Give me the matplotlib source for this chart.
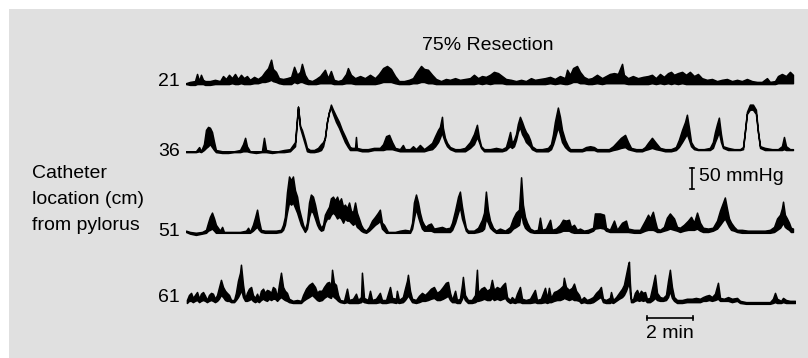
# Small-bowel manometry traces after 75% resection, redrawn with matplotlib
import numpy as np
import matplotlib
matplotlib.use("Agg")
import matplotlib.pyplot as plt

# Catheter positions (cm from pylorus)
locations = ["21", "36", "51", "61"]

# Each row: time (min), lower envelope (mmHg), upper envelope (mmHg)
trace_21 = [
    (0.00, 0, 2), (0.17, -2, 5), (0.39, -2, 7), (0.48, 0, 24), (0.57, 0, 7), (0.65, 0, 22),
    (0.74, 0, 10), (0.83, -2, 7), (1.04, -2, 7), (1.26, 0, 10), (1.48, 0, 7), (1.61, 0, 19),
    (1.74, 0, 12), (1.87, 0, 22), (2.00, 2, 14), (2.13, 0, 24), (2.26, 0, 12), (2.39, 2, 22),
    (2.52, 0, 14), (2.65, 0, 19), (2.78, 0, 10), (2.96, 2, 17), (3.13, 2, 12), (3.30, 5, 19),
    (3.43, 5, 29), (3.57, 7, 38), (3.70, 10, 58), (3.78, 7, 36), (3.91, 5, 29), (4.04, 2, 14),
    (4.22, 0, 12), (4.39, 0, 14), (4.57, 0, 17), (4.70, 5, 41), (4.83, 2, 22), (4.96, 5, 29),
    (5.04, 5, 48), (5.17, 2, 22), (5.30, 0, 10), (5.48, 0, 7), (5.65, 0, 12), (5.83, 2, 19),
    (6.04, 2, 34), (6.17, 2, 14), (6.30, 2, 31), (6.43, 0, 10), (6.61, 0, 7), (6.78, 0, 10),
    (6.96, 2, 24), (7.04, 2, 38), (7.17, 2, 22), (7.35, 0, 14), (7.57, 0, 19), (7.78, 0, 14),
    (8.00, 0, 22), (8.22, 0, 14), (8.39, 2, 24), (8.57, 5, 38), (8.74, 5, 43), (8.91, 5, 36),
    (9.09, 2, 19), (9.26, 0, 7), (9.48, 0, 7), (9.70, 0, 10), (9.87, 2, 14), (10.04, 2, 29),
    (10.22, 5, 43), (10.35, 5, 36), (10.52, 2, 34), (10.70, 2, 22), (10.87, 0, 12), (11.09, 0, 7),
    (11.30, 0, 12), (11.48, 0, 10), (11.70, 0, 14), (11.91, 0, 10), (12.13, 0, 12), (12.35, 0, 14),
    (12.52, 0, 22), (12.70, 2, 14), (12.87, 0, 19), (13.04, 2, 17), (13.22, 0, 22), (13.39, 2, 29),
    (13.57, 2, 26), (13.74, 2, 19), (13.91, 0, 12), (14.13, 0, 10), (14.35, 0, 7), (14.57, 0, 10),
    (14.78, 0, 7), (15.00, 0, 14), (15.17, 0, 10), (15.39, 0, 12), (15.61, 0, 14), (15.83, 2, 17),
    (16.04, 0, 12), (16.26, 2, 19), (16.48, 0, 14), (16.57, 0, 34), (16.70, 2, 22), (16.83, 5, 38),
    (17.00, 5, 43), (17.13, 2, 29), (17.30, 2, 17), (17.48, 0, 12), (17.65, 0, 14), (17.87, 2, 22),
    (18.09, 0, 14), (18.26, 2, 19), (18.43, 2, 24), (18.61, 2, 26), (18.78, 2, 24), (18.96, 2, 48),
    (19.04, 2, 22), (19.22, 0, 14), (19.43, 0, 19), (19.65, 0, 14), (19.87, 0, 17), (20.09, 0, 19),
    (20.26, 2, 22), (20.43, 0, 14), (20.61, 2, 24), (20.78, 0, 17), (20.96, 2, 26), (21.09, 0, 29),
    (21.22, 2, 22), (21.39, 0, 26), (21.57, 2, 29), (21.74, 0, 22), (21.91, 0, 29), (22.09, 0, 19),
    (22.26, 0, 24), (22.43, 0, 14), (22.65, 0, 10), (22.87, 0, 12), (23.09, 0, 7), (23.30, 0, 10),
    (23.52, 0, 12), (23.74, 0, 7), (23.96, 0, 10), (24.17, 0, 7), (24.39, 0, 12), (24.61, 0, 7),
    (24.83, 0, 5), (25.04, 0, 5), (25.26, 0, 14), (25.39, 0, 5), (25.61, 0, 7), (25.74, 2, 19),
    (25.91, 2, 24), (26.09, 2, 19), (26.26, 2, 29), (26.39, 2, 22),
]

trace_36 = [
    (0.00, 0, 2), (0.26, 0, 2), (0.43, 0, 2), (0.57, 2, 12), (0.65, 0, 2), (0.78, 5, 19),
    (0.87, 10, 53), (0.96, 14, 60), (1.04, 19, 58), (1.13, 12, 48), (1.22, 5, 24), (1.30, 0, 5),
    (1.57, -2, 2), (1.83, -2, 2), (2.09, 0, 2), (2.35, 0, 5), (2.48, 2, 19), (2.57, 2, 34),
    (2.65, 2, 14), (2.78, 0, 2), (3.04, -2, 2), (3.30, 0, 2), (3.39, 0, 34), (3.48, 0, 5),
    (3.74, -2, 2), (4.00, 0, 2), (4.26, 0, 5), (4.52, 2, 7), (4.61, 7, 14), (4.74, 14, 24),
    (4.87, 108, 108), (4.96, 58, 62), (5.04, 43, 53), (5.17, 19, 29), (5.26, 2, 10), (5.39, 0, 5),
    (5.57, 0, 5), (5.74, 2, 10), (5.87, 5, 19), (5.96, 14, 24), (6.04, 34, 34), (6.13, 72, 72),
    (6.22, 96, 96), (6.30, 106, 113), (6.39, 91, 101), (6.52, 72, 86), (6.65, 58, 72), (6.78, 41, 53),
    (6.91, 24, 38), (7.04, 12, 22), (7.13, 5, 12), (7.22, 5, 10), (7.35, 5, 10), (7.39, 5, 36),
    (7.43, 5, 10), (7.65, 2, 7), (7.91, 2, 7), (8.17, 5, 10), (8.43, 5, 10), (8.57, 5, 19),
    (8.70, 7, 38), (8.83, 7, 41), (8.96, 7, 24), (9.09, 5, 10), (9.30, 2, 7), (9.43, 2, 17),
    (9.52, 2, 7), (9.74, 2, 7), (9.87, 2, 14), (10.00, 2, 7), (10.17, 2, 17), (10.35, 2, 7),
    (10.52, 5, 14), (10.70, 7, 22), (10.83, 14, 38), (10.96, 24, 53), (11.04, 34, 60), (11.13, 48, 84),
    (11.17, 38, 58), (11.26, 24, 34), (11.35, 14, 22), (11.48, 7, 12), (11.70, 2, 7), (11.91, 2, 7),
    (12.13, 2, 10), (12.35, 10, 24), (12.52, 19, 43), (12.65, 36, 65), (12.74, 24, 34), (12.83, 10, 14),
    (12.96, 2, 7), (13.22, 2, 7), (13.48, 2, 10), (13.74, 2, 7), (13.91, 5, 12), (14.00, 10, 29),
    (14.09, 14, 48), (14.17, 10, 22), (14.26, 14, 29), (14.35, 29, 43), (14.43, 48, 67), (14.52, 60, 84),
    (14.61, 43, 72), (14.70, 34, 58), (14.78, 24, 48), (14.87, 19, 41), (14.96, 14, 29), (15.04, 7, 14),
    (15.22, 2, 7), (15.48, 2, 7), (15.74, 2, 10), (15.87, 7, 19), (15.96, 19, 43), (16.04, 34, 72),
    (16.17, 60, 106), (16.26, 43, 84), (16.35, 24, 53), (16.48, 12, 29), (16.61, 5, 14), (16.70, 2, 7),
    (16.96, 2, 7), (17.22, 2, 7), (17.39, 5, 12), (17.57, 5, 14), (17.74, 5, 12), (17.87, 2, 7),
    (18.13, 2, 7), (18.39, 2, 7), (18.57, 5, 14), (18.74, 7, 24), (18.91, 10, 34), (19.09, 12, 41),
    (19.22, 7, 24), (19.35, 5, 10), (19.57, 2, 7), (19.83, 2, 7), (19.96, 5, 12), (20.09, 7, 22),
    (20.26, 10, 34), (20.43, 7, 22), (20.61, 5, 10), (20.83, 2, 7), (21.09, 2, 7), (21.30, 5, 12),
    (21.43, 12, 29), (21.57, 24, 53), (21.70, 36, 72), (21.78, 43, 89), (21.87, 29, 58), (21.96, 14, 24),
    (22.09, 7, 12), (22.26, 5, 7), (22.52, 5, 7), (22.78, 5, 10), (22.91, 10, 24), (23.00, 24, 48),
    (23.09, 36, 67), (23.17, 48, 82), (23.26, 24, 43), (23.35, 10, 14), (23.57, 5, 10), (23.83, 5, 7),
    (24.09, 5, 7), (24.22, 7, 12), (24.30, 48, 48), (24.39, 91, 96), (24.52, 101, 113), (24.65, 101, 113),
    (24.78, 91, 101), (24.87, 48, 48), (24.96, 10, 14), (25.17, 5, 10), (25.48, 5, 7), (25.74, 5, 7),
    (25.91, 5, 14), (26.00, 7, 36), (26.09, 5, 14), (26.26, 5, 7), (26.39, 5, 7),
]

trace_51 = [
    (0.00, 2, 5), (0.17, -2, 2), (0.43, -5, 0), (0.70, -2, 2), (0.87, 0, 7), (0.96, 5, 24),
    (1.04, 7, 38), (1.13, 10, 48), (1.22, 5, 34), (1.30, 0, 19), (1.39, 0, 12), (1.48, 0, 5),
    (1.57, 0, 14), (1.65, 0, 2), (2.00, 0, 2), (2.35, 0, 2), (2.61, 0, 5), (2.70, 0, 12),
    (2.78, 0, 2), (2.91, 5, 19), (3.00, 10, 36), (3.09, 14, 55), (3.17, 7, 29), (3.26, 2, 7),
    (3.43, 0, 5), (3.65, 0, 5), (3.91, 0, 5), (4.13, 2, 7), (4.22, 7, 19), (4.30, 19, 38),
    (4.39, 48, 96), (4.48, 72, 134), (4.57, 67, 125), (4.65, 72, 134), (4.74, 60, 101), (4.83, 48, 86),
    (4.91, 34, 58), (5.00, 19, 38), (5.09, 10, 19), (5.17, 2, 7), (5.26, 10, 24), (5.35, 38, 72),
    (5.43, 53, 91), (5.52, 48, 86), (5.61, 34, 67), (5.70, 19, 43), (5.78, 10, 24), (5.87, 5, 12),
    (5.96, 7, 19), (6.04, 24, 43), (6.13, 34, 53), (6.22, 34, 62), (6.30, 43, 82), (6.39, 48, 86),
    (6.48, 43, 77), (6.57, 34, 86), (6.65, 38, 72), (6.74, 34, 82), (6.83, 24, 62), (6.91, 34, 67),
    (7.00, 29, 58), (7.09, 29, 72), (7.17, 24, 53), (7.26, 19, 48), (7.35, 24, 72), (7.43, 14, 48),
    (7.52, 10, 34), (7.61, 5, 19), (7.70, 2, 10), (7.83, 0, 5), (7.96, 5, 14), (8.09, 12, 29),
    (8.22, 19, 38), (8.35, 24, 48), (8.43, 29, 55), (8.52, 10, 24), (8.61, 5, 19), (8.70, 0, 10),
    (8.78, 0, 2), (9.09, 0, 2), (9.30, 0, 5), (9.52, 0, 7), (9.74, 0, 5), (9.83, 10, 24),
    (9.91, 34, 72), (10.00, 58, 91), (10.09, 38, 72), (10.17, 24, 48), (10.26, 10, 29), (10.35, 5, 19),
    (10.43, 5, 14), (10.52, 5, 19), (10.65, 5, 22), (10.78, 2, 10), (10.96, 2, 12), (11.13, 2, 14),
    (11.30, 2, 10), (11.48, 2, 12), (11.57, 7, 24), (11.70, 24, 53), (11.83, 48, 86), (11.91, 62, 98),
    (12.00, 34, 62), (12.09, 19, 34), (12.17, 5, 12), (12.26, 0, 5), (12.52, 0, 5), (12.70, 2, 12),
    (12.87, 5, 31), (12.96, 10, 48), (13.04, 34, 98), (13.13, 24, 53), (13.22, 12, 29), (13.35, 5, 12),
    (13.48, 0, 5), (13.65, 0, 10), (13.87, 0, 5), (14.00, 0, 10), (14.09, 2, 14), (14.22, 10, 34),
    (14.35, 14, 48), (14.48, 19, 55), (14.57, 48, 132), (14.65, 24, 67), (14.74, 12, 38), (14.83, 7, 24),
    (14.96, 2, 10), (15.13, 0, 5), (15.30, 0, 7), (15.39, 0, 36), (15.48, 0, 7), (15.65, 0, 10),
    (15.83, 0, 31), (15.91, 0, 7), (16.09, 0, 10), (16.26, 2, 19), (16.39, 5, 31), (16.52, 5, 29),
    (16.65, 5, 31), (16.74, 2, 14), (16.87, 0, 19), (17.00, 0, 7), (17.13, 0, 10), (17.30, 0, 5),
    (17.48, 0, 7), (17.70, 5, 12), (17.78, 10, 46), (18.00, 12, 46), (18.17, 10, 43), (18.26, 5, 12),
    (18.43, 2, 7), (18.61, 2, 29), (18.74, 2, 7), (18.96, 2, 24), (19.13, 2, 29), (19.22, 2, 10),
    (19.48, 0, 7), (19.74, 0, 7), (19.96, 5, 29), (20.09, 7, 43), (20.17, 7, 34), (20.30, 7, 50),
    (20.39, 5, 29), (20.48, 2, 10), (20.61, 2, 7), (20.78, 5, 14), (20.91, 7, 36), (21.04, 10, 46),
    (21.22, 7, 34), (21.35, 5, 14), (21.48, 2, 12), (21.65, 5, 19), (21.83, 7, 29), (21.96, 7, 38),
    (22.09, 7, 24), (22.22, 10, 48), (22.35, 5, 24), (22.48, 2, 12), (22.70, 2, 10), (22.91, 5, 12),
    (23.09, 10, 29), (23.22, 19, 53), (23.35, 29, 72), (23.43, 34, 84), (23.52, 24, 58), (23.61, 14, 34),
    (23.70, 7, 24), (23.83, 5, 14), (23.96, 2, 7), (24.17, 0, 7), (24.43, 0, 5), (24.70, 0, 5),
    (24.96, 0, 5), (25.17, 0, 5), (25.39, 0, 7), (25.57, 2, 14), (25.70, 7, 34), (25.83, 12, 43),
    (25.91, 19, 58), (25.96, 24, 74), (26.04, 14, 43), (26.13, 10, 34), (26.22, 7, 24), (26.30, 2, 12),
    (26.39, 2, 10),
]

trace_61 = [
    (0.04, 0, 7), (0.13, 5, 19), (0.22, 5, 24), (0.30, 2, 12), (0.39, 5, 19), (0.48, 7, 26),
    (0.57, 2, 10), (0.65, 5, 22), (0.74, 7, 26), (0.83, 5, 17), (0.91, 2, 7), (1.00, 5, 19),
    (1.09, 7, 24), (1.17, 5, 22), (1.26, 2, 10), (1.35, 5, 19), (1.43, 10, 36), (1.52, 19, 55),
    (1.61, 14, 38), (1.70, 7, 29), (1.78, 5, 24), (1.87, 5, 19), (1.96, 2, 7), (2.09, 2, 7),
    (2.17, 7, 24), (2.26, 14, 53), (2.35, 24, 72), (2.39, 34, 91), (2.48, 14, 43), (2.57, 5, 10),
    (2.65, 5, 24), (2.74, 7, 34), (2.83, 10, 38), (2.91, 5, 19), (3.00, 2, 12), (3.09, 5, 22),
    (3.17, 2, 10), (3.26, 7, 29), (3.35, 10, 34), (3.43, 7, 24), (3.52, 5, 31), (3.61, 10, 29),
    (3.70, 7, 24), (3.78, 10, 38), (3.87, 10, 34), (3.96, 5, 14), (4.04, 10, 43), (4.13, 14, 72),
    (4.22, 10, 38), (4.30, 7, 29), (4.39, 5, 24), (4.48, 2, 10), (4.65, 0, 5), (4.83, 0, 7),
    (5.00, 0, 5), (5.09, 5, 19), (5.22, 10, 34), (5.35, 14, 43), (5.48, 19, 48), (5.61, 12, 38),
    (5.70, 7, 24), (5.78, 5, 29), (5.91, 7, 29), (6.00, 12, 38), (6.13, 17, 48), (6.22, 14, 50),
    (6.30, 12, 38), (6.35, 19, 79), (6.43, 14, 48), (6.52, 10, 43), (6.61, 5, 19), (6.70, 2, 7),
    (6.87, 0, 5), (7.00, 2, 34), (7.09, 0, 7), (7.26, 0, 10), (7.39, 0, 22), (7.48, 0, 7),
    (7.61, 2, 14), (7.65, 5, 72), (7.74, 2, 12), (7.91, 0, 7), (8.00, 0, 29), (8.09, 0, 7),
    (8.26, 0, 10), (8.43, 2, 24), (8.52, 0, 7), (8.70, 0, 7), (8.87, 2, 38), (8.96, 2, 12),
    (9.13, 0, 10), (9.17, 2, 29), (9.26, 0, 7), (9.43, 2, 14), (9.52, 7, 34), (9.61, 14, 53),
    (9.65, 19, 67), (9.74, 10, 29), (9.83, 2, 10), (10.00, 0, 7), (10.13, 2, 17), (10.26, 5, 24),
    (10.39, 5, 19), (10.52, 7, 26), (10.65, 10, 34), (10.78, 12, 38), (10.91, 7, 24), (11.04, 7, 29),
    (11.17, 10, 38), (11.30, 14, 48), (11.39, 17, 50), (11.48, 7, 24), (11.57, 2, 7), (11.70, 2, 29),
    (11.78, 0, 7), (11.91, 0, 10), (12.00, 10, 43), (12.04, 19, 62), (12.13, 7, 19), (12.26, 0, 7),
    (12.43, 0, 7), (12.57, 2, 19), (12.65, 5, 79), (12.70, 5, 24), (12.83, 7, 34), (12.96, 10, 38),
    (13.09, 7, 29), (13.22, 7, 34), (13.30, 12, 55), (13.39, 7, 31), (13.52, 10, 38), (13.65, 7, 34),
    (13.78, 10, 43), (13.87, 12, 48), (13.96, 5, 14), (14.09, 0, 7), (14.17, 2, 14), (14.30, 0, 7),
    (14.39, 2, 22), (14.52, 2, 38), (14.61, 0, 10), (14.78, 0, 7), (14.96, 0, 10), (15.17, 2, 31),
    (15.26, 0, 7), (15.43, 0, 10), (15.61, 2, 36), (15.70, 0, 10), (15.78, 2, 36), (15.87, 2, 12),
    (16.00, 5, 26), (16.13, 7, 29), (16.26, 7, 34), (16.39, 10, 41), (16.43, 12, 60), (16.52, 10, 38),
    (16.65, 7, 31), (16.78, 10, 36), (16.87, 7, 46), (16.96, 7, 29), (17.09, 5, 19), (17.17, 0, 7),
    (17.30, 2, 14), (17.43, 0, 7), (17.57, 0, 10), (17.70, 2, 14), (17.83, 7, 24), (17.96, 12, 31),
    (18.04, 14, 38), (18.13, 2, 10), (18.26, 0, 7), (18.43, 0, 12), (18.48, 2, 26), (18.57, 0, 7),
    (18.70, 5, 14), (18.83, 10, 24), (18.96, 14, 34), (19.04, 19, 43), (19.13, 29, 67), (19.22, 43, 91),
    (19.26, 53, 98), (19.30, 24, 48), (19.35, 2, 10), (19.43, 2, 7), (19.52, 5, 24), (19.61, 7, 31),
    (19.70, 5, 19), (19.78, 7, 29), (19.87, 5, 24), (19.96, 7, 26), (20.04, 2, 10), (20.17, 2, 12),
    (20.30, 7, 43), (20.39, 12, 67), (20.48, 7, 24), (20.61, 5, 14), (20.74, 5, 12), (20.87, 7, 19),
    (20.96, 14, 53), (21.04, 29, 79), (21.13, 12, 38), (21.22, 5, 14), (21.35, 0, 7), (21.57, 0, 7),
    (21.78, 2, 10), (22.00, 2, 10), (22.17, 2, 12), (22.35, 2, 10), (22.48, 5, 14), (22.61, 5, 17),
    (22.74, 7, 19), (22.87, 5, 14), (23.00, 7, 22), (23.13, 10, 48), (23.22, 5, 12), (23.39, 5, 10),
    (23.57, 5, 14), (23.74, 2, 10), (23.96, 5, 12), (24.09, 0, 5), (24.35, -2, 2), (24.61, -2, 2),
    (24.87, -2, 2), (25.13, -2, 2), (25.39, -2, 2), (25.52, 0, 10), (25.61, 2, 24), (25.70, 0, 10),
    (25.87, 0, 5), (25.96, 2, 12), (26.09, 0, 7), (26.26, 0, 5), (26.48, 0, 5),
]

traces = [trace_21, trace_36, trace_51, trace_61]

# vertical offset of each channel on the shared mmHg axis
offsets = [521, 359, 167, 0]

plt.rcParams['font.family'] = ['Liberation Sans', 'DejaVu Sans']

fig = plt.figure(figsize=(8.08, 3.58), dpi=100)
fig.patch.set_facecolor('white')

# grey panel behind everything (negative zorder so the axes draws on top)
panel = plt.Rectangle((9 / 808, 0), 1 - 9 / 808, 1 - 9 / 358, transform=fig.transFigure,
                      facecolor='#e0e0e0', edgecolor='none', zorder=-5)
fig.patches.append(panel)

ax = fig.add_axes([186 / 808, 0, 609 / 808, 1])
ax.set_xlim(0, 26.48)
ax.set_ylim(-131, 721)
ax.axis('off')

for rows, off in zip(traces, offsets):
    data = np.array(rows, dtype=float)
    t, lo, hi = data[:, 0], data[:, 1], data[:, 2]
    ax.fill_between(t, off + lo, off + hi, facecolor='black', edgecolor='black',
                    linewidth=1.1, joinstyle='round')

# channel labels
label_y = [81, 151, 231, 298]
for lab, y in zip(locations, label_y):
    fig.text(180 / 808, 1 - y / 358, lab, ha='right', va='center', fontsize=14)

fig.text(488 / 808, 1 - 46 / 358, "75% Resection", ha='center', va='center', fontsize=14)
for line, y in zip(["Catheter", "location (cm)", "from pylorus"], [173, 199, 226]):
    fig.text(32 / 808, 1 - y / 358, line, ha='left', va='center', fontsize=14)

# 50 mmHg scale bar
ax.plot([22.0, 22.0], [271, 321], color='black', lw=1.2)
ax.plot([21.9, 22.1], [271, 271], color='black', lw=1.2)
ax.plot([21.9, 22.1], [321, 321], color='black', lw=1.2)
ax.text(22.3, 300, "50 mmHg", ha='left', va='center', fontsize=14)

# 2 min scale bar
ax.plot([20.04, 22.04], [-36, -36], color='black', lw=1.2)
ax.plot([20.04, 20.04], [-41, -31], color='black', lw=1.2)
ax.plot([22.04, 22.04], [-41, -31], color='black', lw=1.2)
ax.text(21.04, -72, "2 min", ha='center', va='center', fontsize=14)

fig.savefig('out.png', dpi=100)
